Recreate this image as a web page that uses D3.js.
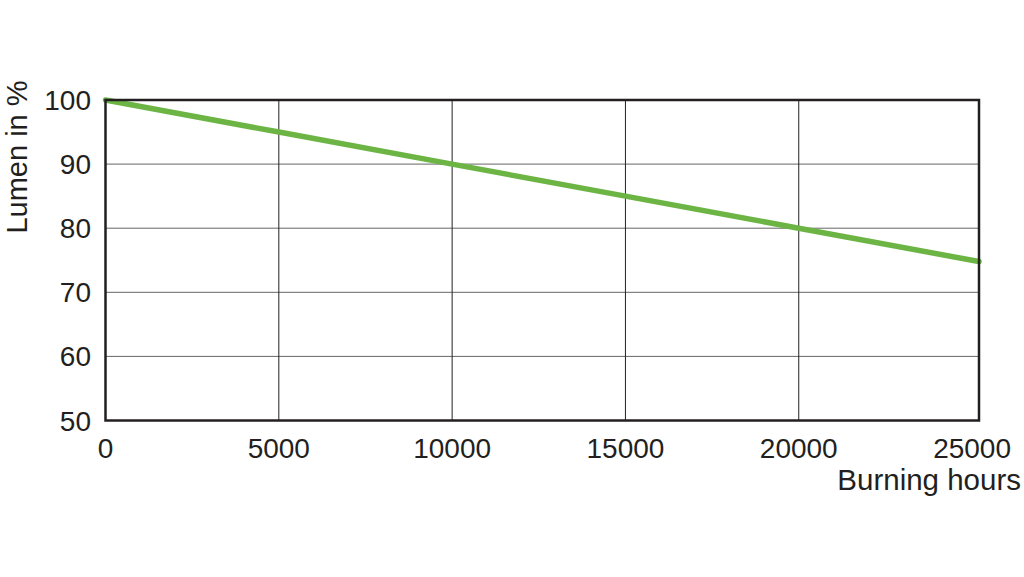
<!DOCTYPE html>
<html><head><meta charset="utf-8">
<script src="https://cdn.jsdelivr.net/npm/d3@7"></script>
<style>body{margin:0;background:#fff}svg{display:block;font-family:"Liberation Sans",Arial,sans-serif}</style>
</head><body><svg id="c" width="1024" height="577"></svg>
<script>
const hours = [0, 5000, 10000, 15000, 20000, 25000, 25200];
const lumen = [100, 95, 90, 85, 80, 75, 74.8];
const xTicks = [0, 5000, 10000, 15000, 20000, 25000];
const yTicks = [50, 60, 70, 80, 90, 100];
const xTitle = "Burning hours";
const yTitle = "Lumen in %";

const svg = d3.select("#c");
const L = 105.5, R = 979, T = 100, B = 420.5;
const x = d3.scaleLinear().domain([0, 25200]).range([L, R]);
const y = d3.scaleLinear().domain([50, 100]).range([B, T]);

// horizontal grid
svg.append("g").selectAll("line").data(yTicks).join("line")
  .attr("x1", L).attr("x2", R).attr("y1", d => y(d)).attr("y2", d => y(d))
  .attr("stroke", "#666").attr("stroke-width", 1);
// vertical grid (interior ticks only)
svg.append("g").selectAll("line").data(xTicks.slice(1, -1)).join("line")
  .attr("y1", T).attr("y2", B).attr("x1", d => x(d)).attr("x2", d => x(d))
  .attr("stroke", "#222").attr("stroke-width", 1);

// data line
svg.append("path").datum(hours.map((h, i) => [h, lumen[i]]))
  .attr("d", d3.line().x(d => x(d[0])).y(d => y(d[1])))
  .attr("fill", "none").attr("stroke", "#6cb544").attr("stroke-width", 5.5)
  .attr("stroke-linecap", "round");

// frame
svg.append("rect").attr("x", L).attr("y", T).attr("width", R - L).attr("height", B - T)
  .attr("fill", "none").attr("stroke", "#231f20").attr("stroke-width", 2.5);

// y tick labels
svg.append("g").selectAll("text").data(yTicks).join("text")
  .attr("x", 91).attr("y", d => y(d)).attr("dy", "0.36em")
  .attr("text-anchor", "end").attr("font-size", 28).attr("fill", "#231f20")
  .text(d => d);
// x tick labels
svg.append("g").selectAll("text").data(xTicks).join("text")
  .attr("x", d => x(d)).attr("y", 458)
  .attr("text-anchor", "middle").attr("font-size", 28).attr("fill", "#231f20")
  .text(d => d);

svg.append("text").attr("x", 1021).attr("y", 490).attr("text-anchor", "end")
  .attr("font-size", 29.5).attr("fill", "#231f20").text(xTitle);
svg.append("text").attr("transform", "translate(27,157) rotate(-90)")
  .attr("text-anchor", "middle").attr("font-size", 29).attr("fill", "#231f20").text(yTitle);
</script></body></html>
